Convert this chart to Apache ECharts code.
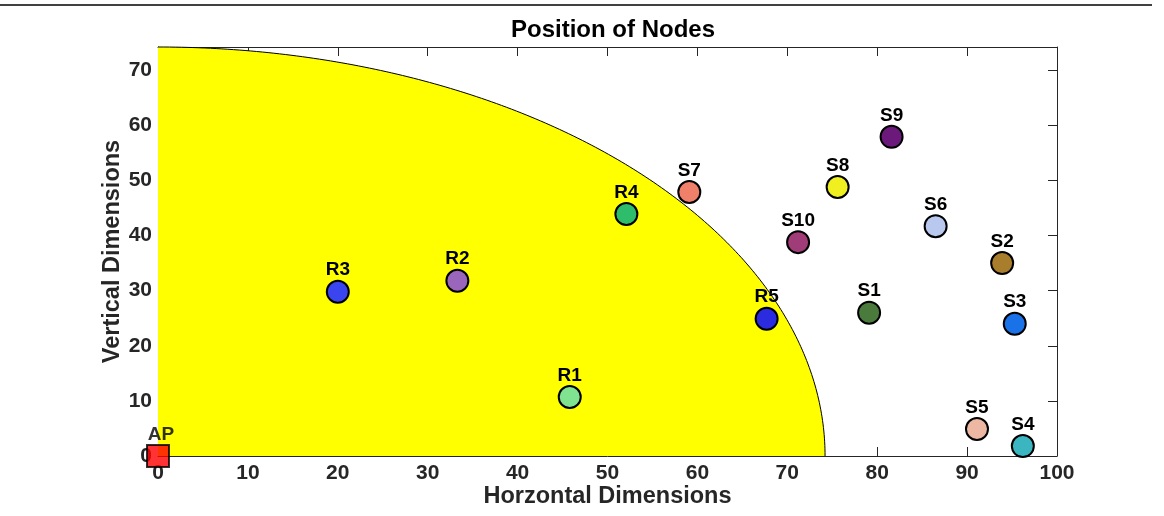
<!DOCTYPE html>
<html>
<head>
<meta charset="utf-8">
<script src="https://cdn.jsdelivr.net/npm/echarts@6/dist/echarts.min.js"></script>
<style>
html,body{margin:0;padding:0;background:#fff;overflow:hidden;}
#chart{width:1164px;height:516px;}
</style>
</head>
<body>
<div id="chart"></div>
<script>
// ---- data ----
var nodeNames = ['R1','R2','R3','R4','R5','S1','S2','S3','S4','S5','S6','S7','S8','S9','S10'];
var nodeX     = [45.8, 33.3, 20.0, 52.1, 67.7, 79.1, 93.9, 95.3, 96.2, 91.1, 86.5, 59.1, 75.6, 81.6, 71.2];
var nodeY     = [10.7, 31.8, 29.8, 43.9, 24.9, 26.0, 35.0, 24.0, 1.8, 4.9, 41.7, 47.9, 48.8, 57.9, 38.8];
var nodeColors = ['#7fe38f','#9966bb','#3b45ef','#2ebd6b','#2b2be0','#4b7a3d','#a87d2b','#1a72e8',
                  '#3bb5c0','#ecb8a4','#b8c8ee','#f0806a','#f0f020','#6b1a7b','#a03c78'];
var apName = 'AP';
var apX = 0, apY = 0;
var coverageRadius = 74.2;
var xTicks = [0,10,20,30,40,50,60,70,80,90,100];
var yTicks = [0,10,20,30,40,50,60,70];
var yMax = 74.2;

var FONT = '"Liberation Sans", Arial, Helvetica, sans-serif';

var nodeData = nodeNames.map(function(n, i){
  return { name: n, value: [nodeX[i], nodeY[i]], itemStyle: { color: nodeColors[i] } };
});

var chart = echarts.init(document.getElementById('chart'));

function axisCommon(){
  return {
    axisLine: { show: true, onZero: false, lineStyle: { color: '#262626', width: 1 } },
    axisTick: { show: true, inside: true, length: 9, lineStyle: { color: '#262626', width: 1 } },
    splitLine: { show: false }
  };
}

var option = {
  animation: false,
  backgroundColor: '#ffffff',
  title: {
    text: 'Position of Nodes',
    left: 608, top: 13, textAlign: 'center',
    textStyle: { fontFamily: FONT, fontSize: 24, fontWeight: 'bold', color: '#000' }
  },
  grid: { left: 158, right: 107, top: 47, bottom: 60, containLabel: false },
  xAxis: [
    Object.assign(axisCommon(), {
      type: 'value', min: 0, max: 100, interval: 10, position: 'bottom',
      name: 'Horzontal Dimensions', nameLocation: 'middle', nameGap: 29, nameMoveOverlap: false,
      nameTextStyle: { fontFamily: FONT, fontSize: 23.5, fontWeight: 'bold', color: '#262626' },
      axisLabel: { fontFamily: FONT, fontSize: 21, fontWeight: 'bold', color: '#262626', margin: 7,
                   formatter: function(v){ return xTicks.indexOf(v) >= 0 ? String(v) : ''; } }
    }),
    Object.assign(axisCommon(), {
      type: 'value', min: 0, max: 100, interval: 10, position: 'top',
      axisLabel: { show: false }
    })
  ],
  yAxis: [
    Object.assign(axisCommon(), {
      type: 'value', min: 0, max: yMax, interval: 10, position: 'left',
      name: 'Vertical Dimensions', nameLocation: 'middle', nameGap: 33, nameRotate: 90, nameMoveOverlap: false,
      nameTextStyle: { fontFamily: FONT, fontSize: 23.5, fontWeight: 'bold', color: '#262626' },
      axisLabel: { fontFamily: FONT, fontSize: 21, fontWeight: 'bold', color: '#262626', margin: 6,
                   showMaxLabel: false,
                   formatter: function(v){ return yTicks.indexOf(v) >= 0 ? String(v) : ''; } }
    }),
    Object.assign(axisCommon(), {
      type: 'value', min: 0, max: yMax, interval: 10, position: 'right',
      axisLabel: { show: false }
    })
  ],
  series: [
    {
      type: 'custom',
      name: 'coverage',
      silent: true,
      z: 1,
      data: [[0, 0]],
      renderItem: function(params, api){
        var pts = [api.coord([0, 0])];
        var arc = [];
        for (var a = 0; a <= 90; a += 0.5) {
          var rad = a * Math.PI / 180;
          var p = api.coord([coverageRadius * Math.cos(rad), coverageRadius * Math.sin(rad)]);
          pts.push(p); arc.push(p);
        }
        return {
          type: 'group',
          children: [
            { type: 'polygon', shape: { points: pts }, style: { fill: '#ffff00', stroke: null } },
            { type: 'polyline', shape: { points: arc }, style: { fill: null, stroke: '#000', lineWidth: 1 } }
          ]
        };
      }
    },
    {
      type: 'scatter',
      name: 'nodes',
      z: 3,
      symbol: 'circle',
      symbolSize: 22,
      itemStyle: { borderColor: '#000', borderWidth: 2, opacity: 1 },
      label: { show: true, position: 'top', distance: 0, formatter: '{b}',
               fontFamily: FONT, fontSize: 19, fontWeight: 'bold', color: '#000' },
      data: nodeData
    },
    {
      type: 'scatter',
      name: 'ap',
      z: 4,
      symbol: 'rect',
      symbolSize: 22,
      itemStyle: { color: '#ff0000', borderColor: '#000', borderWidth: 2 },
      label: { show: true, position: 'top', distance: 0, offset: [3, 0], formatter: '{b}',
               fontFamily: FONT, fontSize: 19, fontWeight: 'bold', color: '#000' },
      data: [{ name: apName, value: [apX, apY] }]
    }
  ],
  graphic: [
    { type: 'line', shape: { x1: 0, y1: 5, x2: 1152, y2: 5 }, style: { stroke: '#000', lineWidth: 1.5 } }
  ]
};
chart.setOption(option);
</script>
</body>
</html>
